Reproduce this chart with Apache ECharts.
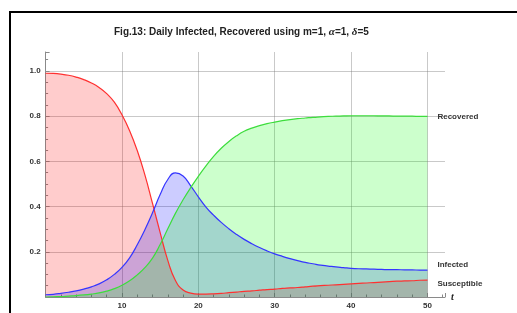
<!DOCTYPE html>
<html>
<head>
<meta charset="utf-8">
<script src="https://cdn.jsdelivr.net/npm/echarts@6/dist/echarts.min.js"></script>
<style>html,body{margin:0;padding:0;background:#fff}#c{width:517px;height:313px}</style>
</head>
<body>
<div id="c"></div>
<script>
const tValues = [0,1,2,3,4,5,6,7,8,9,10,11,12,13,14,15,16,17,18,19,20,21,22,23,24,25,26,27,28,29,30,31,32,33,34,35,36,37,38,39,40,41,42,43,44,45,46,47,48,49,50];
const susceptible = [0.99,0.989,0.986,0.981,0.973,0.962,0.947,0.927,0.90,0.862,0.806,0.736,0.648,0.54,0.414,0.285,0.162,0.073,0.031,0.017,0.013,0.013,0.014,0.016,0.019,0.022,0.025,0.027,0.030,0.033,0.035,0.038,0.040,0.042,0.045,0.048,0.050,0.052,0.054,0.056,0.058,0.060,0.062,0.064,0.066,0.068,0.070,0.071,0.072,0.074,0.075];
const infected = [0.01,0.012,0.016,0.021,0.027,0.035,0.045,0.058,0.076,0.1,0.131,0.173,0.231,0.298,0.373,0.453,0.52,0.549,0.535,0.492,0.443,0.398,0.362,0.33,0.302,0.277,0.255,0.236,0.219,0.204,0.191,0.18,0.17,0.161,0.153,0.147,0.141,0.137,0.133,0.13,0.127,0.125,0.124,0.123,0.122,0.121,0.121,0.120,0.120,0.119,0.119];
const recovered = [0,0.001,0.002,0.004,0.006,0.009,0.013,0.018,0.026,0.037,0.052,0.072,0.098,0.13,0.172,0.232,0.302,0.37,0.43,0.484,0.534,0.58,0.622,0.658,0.688,0.713,0.733,0.747,0.758,0.767,0.774,0.780,0.785,0.789,0.792,0.795,0.797,0.799,0.800,0.801,0.802,0.802,0.802,0.802,0.801,0.801,0.800,0.800,0.800,0.799,0.799];
const xTickLabels = ['10','20','30','40','50'];
const yTickLabels = ['0.2','0.4','0.6','0.8','1.0'];
const seriesNames = ['Susceptible','Infected','Recovered'];

const pairs = arr => tValues.map((t,i)=>[t,arr[i]]);
const lineColors = ['#ff3030','#3535ff','#3ddd3d'];
const fillColors = ['rgba(255,0,0,0.2)','rgba(0,0,255,0.2)','rgba(0,255,0,0.2)'];
const dataSets = [susceptible, infected, recovered];
const labelOffsets = [[6,4],[6,-5],[6,0]];
const SMOOTH = 0.5;

const areaSeries = dataSets.map((d,i)=>({
  type:'line', data:pairs(d), smooth:SMOOTH, showSymbol:false, silent:true,
  lineStyle:{width:0}, areaStyle:{color:fillColors[i], opacity:1}, z:2
}));
const lineSeries = dataSets.map((d,i)=>({
  name:seriesNames[i], type:'line', data:pairs(d), smooth:SMOOTH, showSymbol:false,
  lineStyle:{width:1.2,color:lineColors[i]}, z:3,
  endLabel:{show:true, formatter:seriesNames[i], offset:labelOffsets[i], distance:4,
    fontFamily:'Liberation Sans', fontWeight:'bold', fontSize:8, color:'#333'}
}));

const chart = echarts.init(document.getElementById('c'), null, {renderer:'canvas'});
chart.setOption({
  animation:false,
  backgroundColor:'#fff',
  title:{
    text:'{a|Fig.13: Daily Infected, Recovered using m=1, }{i|α}{a|=1, }{i|δ}{a|=5}',
    left:109, top:22,
    textStyle:{rich:{
      a:{fontFamily:'Liberation Sans',fontWeight:'bold',fontSize:10,color:'#222'},
      i:{fontFamily:'Liberation Serif',fontStyle:'italic',fontSize:11,color:'#222'}
    }}
  },
  graphic:[{type:'rect', shape:{x:10,y:12,width:600,height:400}, style:{fill:'none',stroke:'#000',lineWidth:2}, z:100}],
  grid:{left:45.6, top:52, right:72, bottom:16, containLabel:false},
  xAxis:{
    type:'value', min:0, max:52.3, interval:10,
    name:'t', nameLocation:'end', nameGap:6,
    nameTextStyle:{fontFamily:'Liberation Serif',fontStyle:'italic',fontWeight:'bold',fontSize:10,color:'#222'},
    axisLine:{show:true,lineStyle:{color:'#8a8a8a',width:1}},
    axisTick:{show:true,inside:true,length:4,lineStyle:{color:'#8a8a8a'}},
    minorTick:{show:true,splitNumber:5,length:2.5,lineStyle:{color:'#8a8a8a'}},
    splitLine:{show:true,showMinLine:false,showMaxLine:false,lineStyle:{color:'rgba(120,120,120,0.4)',width:1}},
    axisLabel:{showMinLabel:false,showMaxLabel:false,margin:5,fontFamily:'Liberation Sans',fontWeight:'bold',fontSize:8,color:'#333',
      formatter:v=>{const k=xTickLabels.indexOf(String(v));return k>=0?xTickLabels[k]:'';}}
  },
  yAxis:{
    type:'value', min:0, max:1.084, interval:0.2,
    axisLine:{show:true,lineStyle:{color:'#8a8a8a',width:1}},
    axisTick:{show:true,inside:true,length:4,lineStyle:{color:'#8a8a8a'}},
    minorTick:{show:true,splitNumber:4,length:2.5,lineStyle:{color:'#8a8a8a'}},
    splitLine:{show:true,showMinLine:false,showMaxLine:false,lineStyle:{color:'rgba(120,120,120,0.4)',width:1}},
    axisLabel:{showMinLabel:false,showMaxLabel:false,margin:5,fontFamily:'Liberation Sans',fontWeight:'bold',fontSize:8,color:'#333',
      formatter:v=>{const s=(Math.round(v*10)/10).toFixed(1);return yTickLabels.indexOf(s)>=0?s:'';}}
  },
  series:[...areaSeries, ...lineSeries]
});
</script>
</body>
</html>
